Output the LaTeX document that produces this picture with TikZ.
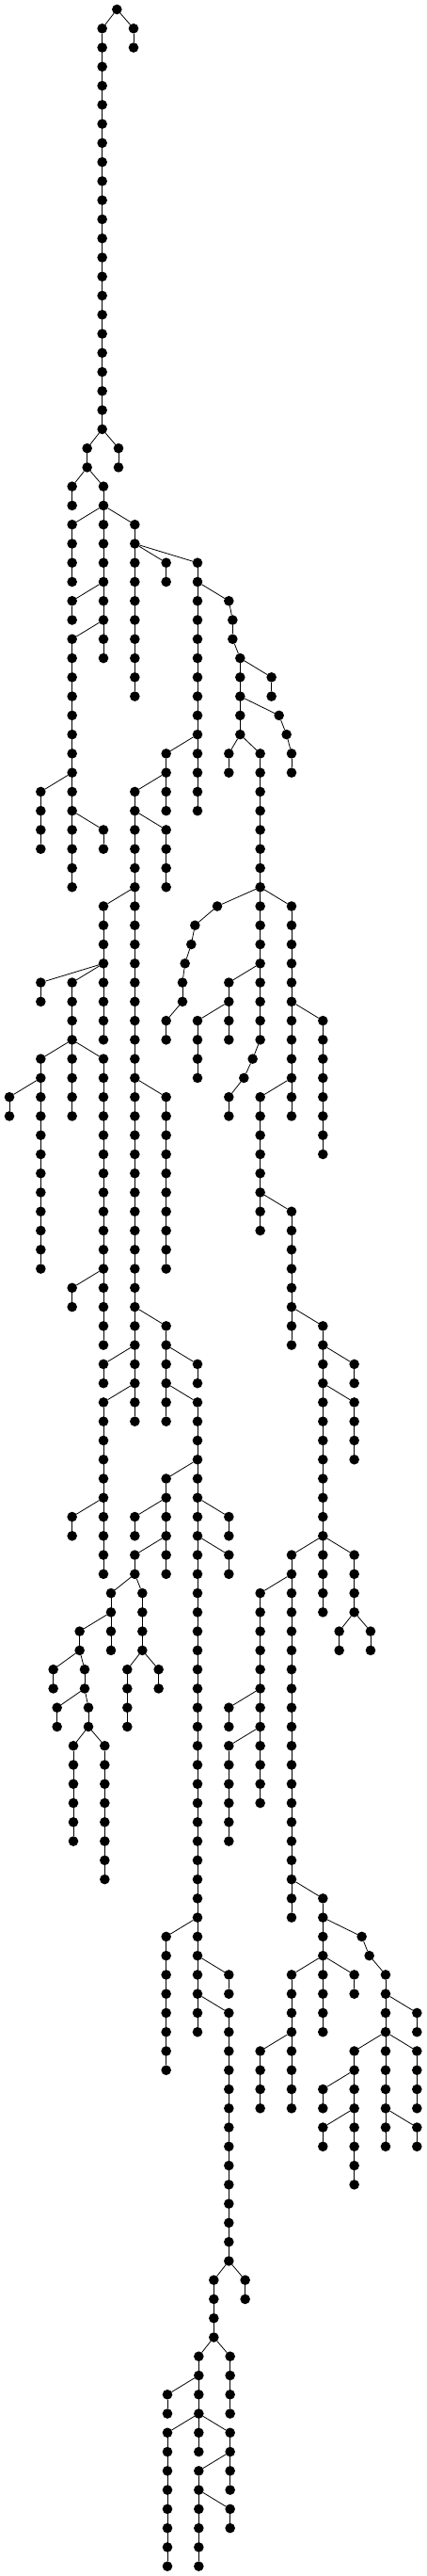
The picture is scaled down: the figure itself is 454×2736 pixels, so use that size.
\documentclass[tikz,border=0pt]{standalone}

\begin{document}
\begin{tikzpicture}[
        x=0.33333pt, y=-20.266pt,
        V/.style = {circle, fill=black,% vertices of the tree
                inner sep=0pt, outer sep=0pt,
                minimum size=10.6pt},
        E/.style = {draw=black, line width=0.8pt},
    ]
    \useasboundingbox (0pt,10pt) rectangle (454pt,-2726pt);
    % vertical runs: x / first level / last level
    \foreach \x/\a/\b in {373/0/0, 326/1/22, 426/1/2, 278/23/24, 378/23/24,
            230/25/26, 330/25/34, 230/27/30, 430/27/36, 230/31/32, 230/33/46,
            530/29/30, 630/29/42, 730/31/31, 742/32/33, 766/34/38, 866/35/36,
            890/37/37, 914/38/38, 930/39/40, 730/39/40, 830/39/54, 530/39/42,
            130/41/44, 330/43/44, 430/41/74, 530/43/46, 330/47/54, 130/51/52,
            230/51/58, 130/55/66, 30/57/58, 330/55/70, 230/67/68, 330/71/72,
            330/73/82, 230/79/80, 530/57/66, 530/69/74, 630/71/72, 630/73/106,
            530/77/82, 430/79/80, 430/81/82, 354/83/86, 254/85/86, 170/87/88,
            270/87/88, 182/89/90, 282/89/90, 234/91/96, 334/91/98, 454/83/86,
            406/87/90, 506/87/88, 730/79/80, 730/81/82, 530/101/108, 730/103/104,
            730/105/118, 682/119/122, 782/119/120, 634/123/128, 734/123/126,
            534/125/126, 534/127/134, 734/127/130, 634/129/134, 734/131/132,
            693/47/47, 622/48/48, 610/49/49, 590/50/50, 582/51/52, 530/53/54,
            930/47/58, 730/51/54, 630/53/56, 806/55/55, 778/56/56, 730/57/58,
            1030/53/60, 830/57/64, 930/63/70, 1030/69/84, 1130/71/72, 1130/73/76,
            930/81/100, 1130/81/84, 1082/85/86, 1182/85/86, 830/83/94, 730/89/90,
            730/91/96, 1030/99/106, 1154/101/101, 1178/102/102, 1230/103/112,
            1330/105/106, 930/103/110, 830/107/110, 1130/103/104, 1130/107/114,
            1030/109/110, 1030/111/112, 1330/107/110, 1330/111/112}
    {
        \foreach \l in {\a,...,\b}
        \node[V] (v-\x-\l) at (\x,\l) {};
        \ifnum\a<\b \draw[E] (v-\x-\a) -- (v-\x-\b); \fi
    }
    % slanted edges: parent x / parent level / child x
    \foreach \x/\l/\c in {373/0/326, 373/0/426, 326/22/278, 326/22/378, 278/24/230,
            278/24/330, 330/26/230, 330/26/430, 330/30/230, 330/32/230, 430/28/530,
            430/28/630, 630/30/730, 730/31/742, 742/33/766, 766/34/866, 766/36/890,
            890/37/914, 914/38/930, 766/38/730, 766/38/830, 630/38/530, 230/40/130,
            230/42/330, 530/40/430, 430/42/530, 430/46/330, 330/50/130, 330/50/230,
            830/46/693, 830/46/930, 693/47/622, 622/48/610, 610/49/590, 590/50/582,
            582/52/530, 830/50/730, 730/52/630, 830/54/806, 806/55/778, 778/56/730,
            930/52/1030, 930/56/830, 830/62/930, 230/54/130, 230/54/330, 130/56/30,
            330/66/230, 430/56/530, 430/68/530, 430/70/330, 430/72/330, 530/70/630,
            530/72/630, 630/76/530, 330/78/230, 530/78/430, 630/78/730, 530/80/430,
            630/80/730, 430/82/354, 430/82/454, 354/84/254, 254/86/170, 254/86/270,
            270/88/182, 270/88/282, 282/90/234, 282/90/334, 454/86/406, 454/86/506,
            930/68/1030, 1030/70/1130, 1030/72/1130, 1030/80/930, 1030/80/1130,
            1130/84/1082, 1130/84/1182, 930/82/830, 830/88/730, 830/90/730,
            930/98/1030, 1030/100/1154, 1154/101/1178, 1178/102/1230, 1230/104/1330,
            1230/106/1130, 1230/106/1330, 1030/102/930, 1030/102/1130, 930/106/830,
            1130/108/1030, 1130/110/1030, 1230/110/1330, 630/100/530, 630/102/730,
            630/104/730, 730/118/682, 730/118/782, 682/122/634, 682/122/734,
            634/124/534, 634/126/534, 634/126/734, 734/128/634, 634/130/734}
    {
        \pgfmathtruncatemacro\m{\l+1}
        \draw[E] (v-\x-\l) -- (v-\c-\m);
    }
\end{tikzpicture}
\end{document}
